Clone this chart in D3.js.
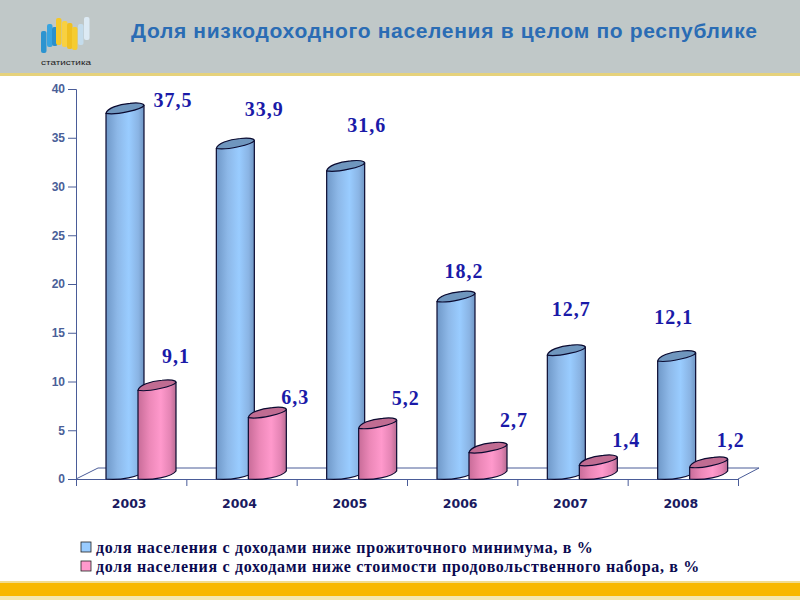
<!DOCTYPE html>
<html><head><meta charset="utf-8">
<script src="https://d3js.org/d3.v7.min.js"></script>
<style>html,body{margin:0;padding:0;background:#fff}svg{display:block}</style>
</head><body><svg id="c" width="800" height="600"></svg>
<script>
const title = "Доля низкодоходного населения в целом по республике";
const years = ["2003","2004","2005","2006","2007","2008"];
const subsistence = [37.5,33.9,31.6,18.2,12.7,12.1];
const foodBasket = [9.1,6.3,5.2,2.7,1.4,1.2];
const yTicks = [0,5,10,15,20,25,30,35,40];
const legendLabels = ["доля населения с доходами ниже прожиточного минимума, в %","доля населения с доходами ниже стоимости продовольственного набора, в %"];
// label placement relative to each bar's top
const blueLabelDx = [48,29,21,8,5,-3];
const blueLabelDy = [-6,-32,-39,-24,-39,-37];
const pinkLabelDx = [19,28,28,26,28,22];
const pinkLabelDy = [-27,-14,-23,-26,-18,-20];

const svg = d3.select("#c");
const fmt = v => String(v).replace(".",",");
const x = d3.scaleBand().domain(years).range([76,738]);
const y = d3.scaleLinear().domain([0,40]).range([479,89]);
const edge = d3.scaleLinear().domain([0,6]).range([76,738]);

// background bands
svg.append("rect").attr("width",800).attr("height",73).attr("fill","#c0c8c8");
svg.append("rect").attr("y",73).attr("width",800).attr("height",3).attr("fill","#e6d27c");
svg.append("rect").attr("y",583).attr("width",800).attr("height",13).attr("fill","#f8b800");
svg.append("rect").attr("y",581).attr("width",800).attr("height",2).attr("fill","#f0dc90");
svg.append("rect").attr("y",596).attr("width",800).attr("height",4).attr("fill","#f4e8b0");

// logo
const logoColors = ["#2c94d0","#38a4e0","#2a90cc","#f5c828","#f8d040","#f0c020","#f5cc30","#c4dcec","#dceaf4"];
const logoX = [41,47,52,56,62,67,72,78,84];
const logoTop = [31,24,27,18,21,23,27,24,17];
const logoBottom = [53,47,46,45,47,49,50,45,40];
const logo = svg.append("g");
logoX.forEach((lx,i)=>logo.append("rect").attr("x",lx).attr("y",logoTop[i]).attr("width",5.5).attr("height",logoBottom[i]-logoTop[i]).attr("rx",2).attr("fill",logoColors[i]));
logo.append("text").attr("x",41).attr("y",65).attr("font-family","Liberation Sans").attr("font-size",7).attr("fill","#222").attr("textLength",50).attr("lengthAdjust","spacingAndGlyphs").text("статистика");

// title
svg.append("text").attr("x",131).attr("y",38).attr("font-family","Liberation Sans").attr("font-weight","bold").attr("font-size",21).attr("letter-spacing",0.68).attr("fill","#2a6cb4").text(title);

// defs
const defs = svg.append("defs");
function grad(id,stops){const g=defs.append("linearGradient").attr("id",id);stops.forEach(s=>g.append("stop").attr("offset",s[0]).attr("stop-color",s[1]));}
grad("gb",[[0,"#6f98c8"],[.3,"#8db8e8"],[.6,"#99ccff"],[.85,"#8ab4e4"],[1,"#6f96c4"]]);
grad("gp",[[0,"#c86c98"],[.3,"#ec88b8"],[.6,"#ff99cc"],[.85,"#e484b4"],[1,"#b86c92"]]);

// floor
const f0=y(0), fb=y(0)-11;
svg.append("path").attr("fill","none").attr("stroke","#4a5c98").attr("stroke-width",1)
  .attr("d",d3.line()([[x.range()[0],f0],[x.range()[0]+22,fb],[x.range()[1]+21,fb],[x.range()[1],f0]]));

// axes
const yAxis = d3.axisLeft(y).tickValues(yTicks).tickSize(8).tickPadding(3);
const xAxis = d3.axisBottom(edge).tickValues(d3.range(7)).tickSize(7).tickFormat("");
const ga=svg.append("g").attr("transform","translate(76,0)").call(yAxis);
const gb=svg.append("g").attr("transform",`translate(0,${f0})`).call(xAxis);
[ga,gb].forEach(g=>{g.selectAll("path,line").attr("stroke","#4a5c98");});
ga.selectAll("text").attr("font-family","Liberation Sans").attr("font-weight","bold").attr("font-size",12).attr("fill","#4a6098");

svg.append("g").selectAll("text").data(years).join("text")
  .attr("x",d=>x(d)+x.bandwidth()/2-2).attr("y",508).attr("text-anchor","middle")
  .attr("font-family","DejaVu Sans").attr("font-weight","bold").attr("font-size",12.5).attr("fill","#1a1a60").text(d=>d);

// cylinders
const W=38, R=8;
function sidePath(x0,v){const x1=x0+W,t=y(v),b=f0,m=(x0+x1)/2;
  return `M${x0},${t}L${x0},${b}C${m-6},${b+1.5} ${x1-4},${b-2} ${x1},${b-R}L${x1},${t-R}Z`;}
function topPath(x0,v){const x1=x0+W,t=y(v);
  return `M${x0},${t}C${x0+1},${t-5} ${x0+12},${t-9} ${x0+24},${t-10}C${x1-6},${t-11} ${x1},${t-10} ${x1},${t-R}C${x1-2},${t-4} ${x0+10},${t+2} ${x0},${t}Z`;}
function cyl(x0,v,fill,topFill){
  const g=svg.append("g").attr("stroke","#0a0a30").attr("stroke-width",1.2).attr("stroke-linejoin","round");
  g.append("path").attr("d",sidePath(x0,v)).attr("fill",fill);
  g.append("path").attr("d",topPath(x0,v)).attr("fill",topFill);
}
years.forEach((d,i)=>{
  cyl(x(d)+30,subsistence[i],"url(#gb)","#6f96be");
  cyl(x(d)+62,foodBasket[i],"url(#gp)","#c06c92");
});

// value labels
const lab=svg.append("g").attr("font-family","Liberation Serif").attr("font-weight","bold").attr("font-size",20).attr("letter-spacing",1).attr("fill","#1a1aa8").attr("text-anchor","middle");
years.forEach((d,i)=>{
  lab.append("text").attr("x",x(d)+30+W/2+blueLabelDx[i]).attr("y",y(subsistence[i])+blueLabelDy[i]).text(fmt(subsistence[i]));
  lab.append("text").attr("x",x(d)+62+W/2+pinkLabelDx[i]).attr("y",y(foodBasket[i])+pinkLabelDy[i]).text(fmt(foodBasket[i]));
});

// legend
const legendColors=["#99ccff","#ff99cc"];
legendLabels.forEach((t,i)=>{
  const yy=542+i*19;
  svg.append("rect").attr("x",81).attr("y",yy).attr("width",10).attr("height",10).attr("fill",legendColors[i]).attr("stroke","#222").attr("stroke-width",.8);
  svg.append("text").attr("x",96).attr("y",yy+11).attr("font-family","Liberation Serif").attr("font-weight","bold").attr("font-size",16).attr("letter-spacing",0.68).attr("fill","#0a0a50").text(t);
});
</script></body></html>
